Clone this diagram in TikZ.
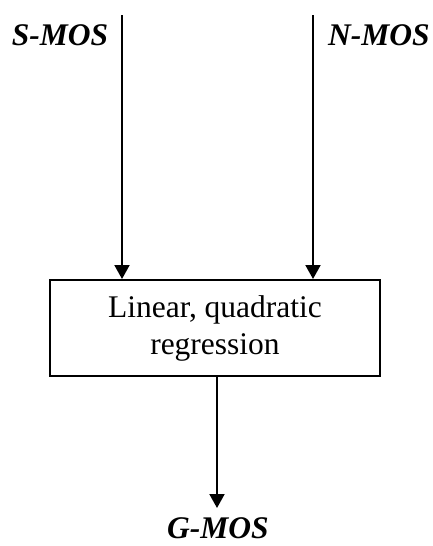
\documentclass[tikz,border=0pt]{standalone}
\usepackage{fontspec}
\setmainfont{Liberation Serif}
\usetikzlibrary{arrows.meta}
\begin{document}
\begin{tikzpicture}[x=1pt,y=1pt,
  arr/.style={line width=2pt,-{Triangle[width=15pt,length=14pt]}},
  lbl/.style={font=\fontsize{31.5}{36}\selectfont\bfseries\itshape,anchor=base,inner sep=0pt},
  boxnode/.style={draw,line width=2pt,minimum width=330pt,minimum height=96pt,align=center,inner sep=0pt,font=\fontsize{31.5}{37}\selectfont}]
\useasboundingbox (0,0) rectangle (433,-546);
\node[boxnode] (box) at (215,-328) {Linear, quadratic\\regression};
\coordinate (s1) at (122,-15);
\coordinate (n1) at (313,-15);
\coordinate (g1) at (217,-508);
\coordinate (b1) at (217,-376);
\draw[arr] (s1) -- (s1 |- box.north);
\draw[arr] (n1) -- (n1 |- box.north);
\draw[arr] (b1 |- box.south) -- (g1);
\node[lbl] (smos) at (60,-45) {S-MOS};
\node[lbl] (nmos) at (379,-45) {N-MOS};
\node[lbl] (gmos) at (218,-538) {G-MOS};
\end{tikzpicture}
\end{document}
